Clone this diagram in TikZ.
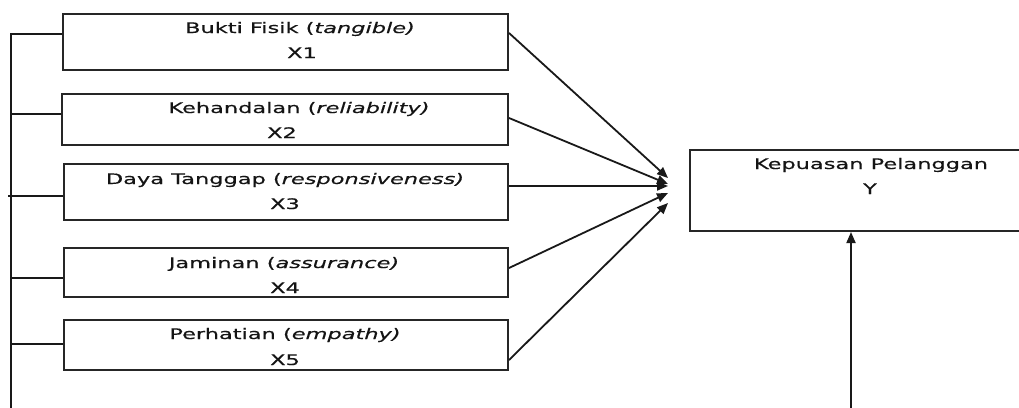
\documentclass[tikz,border=0pt]{standalone}
\usepackage{fontspec}
\setmainfont[FakeStretch=1.55,FakeBold=0.4]{DejaVu Sans}
\usetikzlibrary{arrows.meta}
\begin{document}
\begin{tikzpicture}[x=1pt,y=-1pt,
  box/.style={draw=black!85,line width=2pt,inner sep=0pt,minimum width=444pt},
  lbl/.style={font=\fontsize{14.5}{17}\selectfont,text=black!92,inner sep=0pt,anchor=base},
  conn/.style={draw=black!90,line width=1.8pt},
  arr/.style={conn,-{Triangle[length=11pt,width=9pt]}}]
\useasboundingbox (0,0) rectangle (1019,407);
\clip (0,0) rectangle (1019,407);
% boxes
\node[box,minimum width=445pt,minimum height=56pt] (b1) at (285.5,42) {};
\node[box,minimum width=446pt,minimum height=51pt] (b2) at (285,119.5) {};
\node[box,minimum height=56pt] (b3) at (286,192) {};
\node[box,minimum height=49pt] (b4) at (286,272.5) {};
\node[box,minimum height=50pt] (b5) at (286,345) {};
\node[box,minimum width=340pt,minimum height=81pt] (y) at (860,190.5) {};
% labels
\node[lbl] (l1a) at (300,33) {Bukti Fisik (\textit{tangible)}};
\node[lbl] (l1b) at (302,58) {X1};
\node[lbl] (l2a) at (299,113) {Kehandalan (\textit{reliability)}};
\node[lbl] (l2b) at (282,138) {X2};
\node[lbl] (l3a) at (285,184) {Daya Tanggap (\textit{responsiveness)}};
\node[lbl] (l3b) at (285,209) {X3};
\node[lbl] (l4a) at (284,268) {Jaminan (\textit{assurance)}};
\node[lbl] (l4b) at (285,293) {X4};
\node[lbl] (l5a) at (285,339) {Perhatian (\textit{empathy)}};
\node[lbl] (l5b) at (285,365) {X5};
\node[lbl] (lya) at (871,169) {Kepuasan Pelanggan};
\node[lbl] (lyb) at (870,194) {Y};
% left bus
\coordinate (bustop) at (11,34);
\coordinate (busbot) at (11,410);
\coordinate (s2) at (11,114);
\coordinate (s3) at (8,196);
\coordinate (s4) at (11,278);
\coordinate (s5) at (11,344);
\draw[conn] (busbot) -- (bustop) -- (bustop -| b1.west);
\draw[conn] (s2) -- (s2 -| b2.west);
\draw[conn] (s3) -- (s3 -| b3.west);
\draw[conn] (s4) -- (s4 -| b4.west);
\draw[conn] (s5) -- (s5 -| b5.west);
% arrows to Y
\coordinate (o1) at (508,33);
\coordinate (o2) at (508,118);
\coordinate (o3) at (508,186);
\coordinate (o4) at (508,268);
\coordinate (o5) at (508,360);
\coordinate (t1) at (668,178);
\coordinate (t2) at (668,184);
\coordinate (t3) at (668,186);
\coordinate (t4) at (668,193);
\coordinate (t5) at (668,203);
\draw[arr] (o1 -| b1.east) -- (t1);
\draw[arr] (o2 -| b2.east) -- (t2);
\draw[arr] (o3 -| b3.east) -- (t3);
\draw[arr] (o4 -| b4.east) -- (t4);
\draw[arr] (o5 -| b5.east) -- (t5);
% bottom arrow
\coordinate (yb) at (851,410);
\draw[arr] (yb) -- (yb |- y.south);
\end{tikzpicture}
\end{document}
